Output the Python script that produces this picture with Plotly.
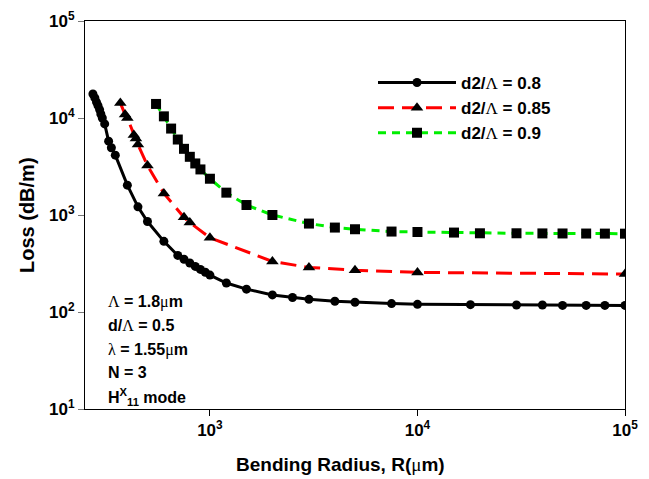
import plotly.graph_objects as go

# ---- data ----
r_08 = [273, 279, 284, 289, 294, 298, 303, 311, 325, 335, 350, 400, 450, 500, 600, 700,
        750, 800, 850, 900, 950, 1000, 1200, 1500, 2000, 2500, 3000, 4000, 5000, 7500,
        10000, 18000, 30000, 40000, 50000, 65000, 80000, 100000]
loss_08 = [17700, 16100, 14600, 13400, 12200, 11000, 10000, 8690, 5770, 4930, 4140, 2030,
           1213, 857, 535, 383, 350, 320, 295, 275, 257, 240, 199, 172, 150, 141, 135, 129,
           126, 122, 120, 119, 118, 118, 117, 117, 117, 117]

r_085 = [370, 390, 400, 430, 440, 450, 500, 600, 750, 800, 1000, 2000, 3000, 5000, 10000, 100000]
loss_085 = [14300, 10840, 10000, 6670, 6140, 5330, 3240, 1670, 946, 836, 583, 332, 288,
            270, 256, 246]

r_09 = [550, 600, 650, 700, 750, 800, 850, 900, 1000, 1200, 1500, 2000, 3000, 4000, 5000,
        7500, 10000, 15000, 20000, 30000, 40000, 50000, 65000, 80000, 100000]
loss_09 = [13960, 10400, 7780, 6000, 4810, 3980, 3400, 2950, 2365, 1700, 1267, 1000, 816,
           742, 713, 675, 668, 659, 648, 648, 646, 645, 644, 643, 642]

x_ticks = [1e3, 1e4, 1e5]
x_tick_text = ["10<sup>3</sup>", "10<sup>4</sup>", "10<sup>5</sup>"]
y_ticks = [1e1, 1e2, 1e3, 1e4, 1e5]
y_tick_text = ["10<sup>1</sup>", "10<sup>2</sup>", "10<sup>3</sup>", "10<sup>4</sup>", "10<sup>5</sup>"]

SERIF = '<span style="font-family:Liberation Serif;font-weight:normal">'
FONT = "Liberation Sans"

fig = go.Figure()
fig.add_trace(go.Scatter(x=r_08, y=loss_08, mode="lines+markers", name="d2/" + SERIF + "Λ</span> = 0.8",
                         line=dict(color="black", width=3),
                         marker=dict(symbol="circle", size=9, color="black")))
fig.add_trace(go.Scatter(x=r_085, y=loss_085, mode="lines+markers", name="d2/" + SERIF + "Λ</span> = 0.85",
                         line=dict(color="#ff0000", width=3, dash="16px,8px"),
                         marker=dict(symbol="triangle-up", size=11, color="black")))
fig.add_trace(go.Scatter(x=r_09, y=loss_09, mode="lines+markers", name="d2/" + SERIF + "Λ</span> = 0.9",
                         line=dict(color="#00ee00", width=3, dash="8px,6px"),
                         marker=dict(symbol="square", size=10, color="black")))

# page has an 8px body margin: figure starts at (8, 8)
fig.update_layout(
    width=641, height=471,
    margin=dict(l=77, r=24, t=13, b=70, autoexpand=False),
    paper_bgcolor="white", plot_bgcolor="white",
    font=dict(family=FONT, size=14, color="black", weight="bold"),
    showlegend=True,
    legend=dict(x=(373 - 85) / 540, y=(409 - 65) / 388, xanchor="left", yanchor="top",
                bgcolor="rgba(0,0,0,0)", itemwidth=78, tracegroupgap=0,
                traceorder="normal",
                font=dict(family=FONT, size=17, weight="bold")),
)
fig.update_xaxes(type="log", range=[2.398, 5], tickvals=x_ticks, ticktext=x_tick_text,
                 automargin=False,
                 ticks="outside", ticklen=6, tickwidth=1, tickcolor="black",
                 showline=True, linecolor="black", linewidth=1, mirror=True,
                 showgrid=False, zeroline=False,
                 tickfont=dict(family=FONT, size=17, weight="bold"))
fig.update_yaxes(type="log", range=[1, 5], tickvals=y_ticks, ticktext=y_tick_text,
                 automargin=False,
                 ticks="outside", ticklen=6, tickwidth=1, tickcolor="#777777",
                 showline=True, linecolor="black", linewidth=1, mirror=True,
                 showgrid=False, zeroline=False,
                 tickfont=dict(family=FONT, size=17, weight="bold"))

# axis titles
fig.add_annotation(text="Bending Radius, R(" + SERIF + "μ</span>m)", xref="paper", yref="paper",
                   x=(340 - 85) / 540, y=(409 - 464) / 388, showarrow=False,
                   font=dict(family=FONT, size=19, weight="bold"), xanchor="center", yanchor="middle")
fig.add_annotation(text="Loss (dB/m)", xref="paper", yref="paper", textangle=-90,
                   x=(27 - 85) / 540, y=(409 - 215) / 388, showarrow=False,
                   font=dict(family=FONT, size=20, weight="bold"), xanchor="center", yanchor="middle")

# parameter annotations
info_lines = [
    SERIF + "Λ</span> = 1.8" + SERIF + "μ</span>m",
    "d/" + SERIF + "Λ</span> = 0.5",
    SERIF + "λ</span> = 1.55" + SERIF + "μ</span>m",
    "N = 3",
    "H<sup>X</sup><sub>11</sub> mode",
]
info_y = [301.7, 325.7, 350, 372.7, 396.7]
for txt, py in zip(info_lines, info_y):
    fig.add_annotation(text=txt, xref="paper", yref="paper", x=(106 - 85) / 540,
                       y=(409 - py) / 388, showarrow=False, xanchor="left", yanchor="middle",
                       font=dict(family=FONT, size=16, weight="bold"))

fig.write_html("out.html")
